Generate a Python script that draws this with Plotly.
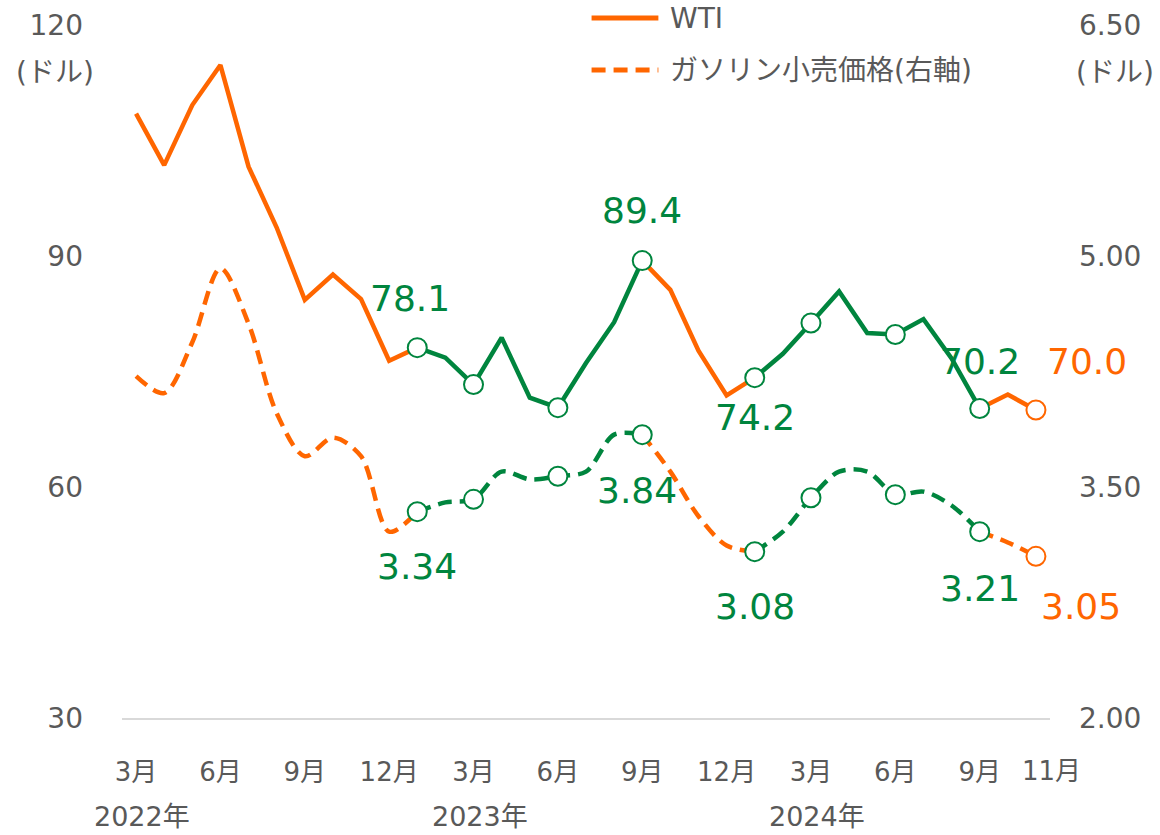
import plotly.graph_objects as go

# Monthly series, March 2022 through November 2024 (33 months)
months = list(range(33))
wti = [108.5, 101.8, 109.6, 114.8, 101.6, 93.7, 84.3, 87.6, 84.4, 76.4,
       78.1, 76.8, 73.3, 79.4, 71.6, 70.3, 76.1, 81.4, 89.4, 85.6, 77.7, 71.9,
       74.2, 77.3, 81.3, 85.4, 80.0, 79.8, 81.8, 76.7, 70.2, 72.0, 70.0]
gasoline = [4.22, 4.11, 4.44, 4.92, 4.56, 3.98, 3.70, 3.82, 3.70, 3.21,
            3.34, 3.40, 3.42, 3.60, 3.55, 3.57, 3.60, 3.84, 3.84, 3.60, 3.31, 3.12,
            3.08, 3.21, 3.43, 3.60, 3.60, 3.45, 3.47, 3.38, 3.21, 3.14, 3.05]

tick_pos = [0, 3, 6, 9, 12, 15, 18, 21, 24, 27, 30]
tick_text = ["3月", "6月", "9月", "12月", "3月", "6月", "9月", "12月",
             "3月", "6月", "9月"]
end_pos = 32
end_text = "11月"
year_pos = [0, 12, 24]
year_text = ["2022年", "2023年", "2024年"]

# highlighted periods (index ranges) and plain periods
green_ranges = [(10, 18), (22, 30)]
orange_ranges = [(0, 10), (18, 22), (30, 32)]
marker_idx = [10, 12, 15, 18, 22, 24, 27, 30]
last_idx = 32
wti_labels = [10, 18, 22, 30]
gas_labels = [10, 18, 22, 30]

ORANGE = "#FF6600"
GREEN = "#00853E"
GREY = "#595959"
FONT = "DejaVu Sans, Noto Sans CJK JP, sans-serif"

fig = go.Figure()


def add_segment(series, rng, color, dash, yaxis, smooth):
    a, b = rng
    line = dict(color=color, width=4.5, dash=dash)
    if smooth:
        line.update(shape="spline", smoothing=0.9)
    fig.add_trace(go.Scatter(
        x=months[a:b + 1], y=series[a:b + 1], mode="lines", line=line,
        yaxis=yaxis, showlegend=False, hoverinfo="skip"))


for rng in orange_ranges:
    add_segment(wti, rng, ORANGE, "solid", "y", False)
    add_segment(gasoline, rng, ORANGE, "14px,8px", "y2", True)
for rng in green_ranges:
    add_segment(wti, rng, GREEN, "solid", "y", False)
    add_segment(gasoline, rng, GREEN, "14px,8px", "y2", True)

# open circle markers
for series, yax in ((wti, "y"), (gasoline, "y2")):
    fig.add_trace(go.Scatter(
        x=[months[i] for i in marker_idx], y=[series[i] for i in marker_idx],
        mode="markers", yaxis=yax, showlegend=False, hoverinfo="skip",
        marker=dict(symbol="circle", size=19, color="white",
                    line=dict(color=GREEN, width=2))))
    fig.add_trace(go.Scatter(
        x=[months[last_idx]], y=[series[last_idx]],
        mode="markers", yaxis=yax, showlegend=False, hoverinfo="skip",
        marker=dict(symbol="circle", size=19, color="white",
                    line=dict(color=ORANGE, width=2))))

annotations = []

# value labels for WTI
wti_offsets = {10: (-7, 49), 18: (0, 50), 22: (0, -40), 30: (0, 47)}
for i in wti_labels:
    dx, dy = wti_offsets[i]
    annotations.append(dict(x=months[i], y=wti[i], xref="x", yref="y",
                            text=f"{wti[i]:.1f}", showarrow=False,
                            xshift=dx, yshift=dy,
                            font=dict(size=36, color=GREEN, family=FONT)))
annotations.append(dict(x=months[last_idx], y=wti[last_idx], xref="x", yref="y",
                        text=f"{wti[last_idx]:.1f}", showarrow=False,
                        xshift=51, yshift=49,
                        font=dict(size=36, color=ORANGE, family=FONT)))

# value labels for gasoline
gas_offsets = {10: (0, -55), 18: (-5, -56), 22: (0, -55), 30: (0, -57)}
for i in gas_labels:
    dx, dy = gas_offsets[i]
    annotations.append(dict(x=months[i], y=gasoline[i], xref="x", yref="y2",
                            text=f"{gasoline[i]:.2f}", showarrow=False,
                            xshift=dx, yshift=dy,
                            font=dict(size=36, color=GREEN, family=FONT)))
annotations.append(dict(x=months[last_idx], y=gasoline[last_idx], xref="x", yref="y2",
                        text=f"{gasoline[last_idx]:.2f}", showarrow=False,
                        xshift=45, yshift=-50,
                        font=dict(size=36, color=ORANGE, family=FONT)))

# last month label, nudged right of its tick
annotations.append(dict(x=end_pos, y=0, xref="x", yref="paper", text=end_text,
                        showarrow=False, yshift=-53, xshift=16,
                        xanchor="center", yanchor="middle",
                        font=dict(size=26, color=GREY, family=FONT)))

# year labels under the month ticks
for p, t in zip(year_pos, year_text):
    annotations.append(dict(x=p, y=0, xref="x", yref="paper", text=t,
                            showarrow=False, yshift=-98, xshift=6,
                            xanchor="center", yanchor="middle",
                            font=dict(size=27, color=GREY, family=FONT)))

# unit labels
for xp in (-0.072, 1.070):
    annotations.append(dict(x=xp, y=0.932, xref="paper", yref="paper",
                            text="(ドル)", showarrow=False,
                            xanchor="center", yanchor="middle",
                            font=dict(size=28, color=GREY, family=FONT)))

# legend entries
legend_items = [("WTI", "solid", 1.010), ("ガソリン小売価格(右軸)", "14px,8px", 0.935)]
shapes = []
for name, dash, yp in legend_items:
    shapes.append(dict(type="line", xref="paper", yref="paper",
                       x0=0.506, x1=0.578, y0=yp, y1=yp,
                       line=dict(color=ORANGE, width=5, dash=dash)))
    annotations.append(dict(x=0.588, y=yp, xref="paper", yref="paper",
                            text=name, showarrow=False,
                            xanchor="left", yanchor="middle",
                            font=dict(size=28, color=GREY, family=FONT)))

fig.update_layout(
    width=1160, height=835,
    margin=dict(l=122, r=110, t=25, b=117),
    paper_bgcolor="white", plot_bgcolor="white",
    font=dict(family=FONT, color=GREY, size=28),
    showlegend=False,
    annotations=annotations,
    shapes=shapes,
    xaxis=dict(range=[-0.5, 32.5], tickmode="array", tickvals=tick_pos,
               ticktext=tick_text, showgrid=False, zeroline=False,
               showline=True, linecolor="#D9D9D9", linewidth=1.5,
               ticks="", ticklabelstandoff=30, tickangle=0, automargin=False,
               tickfont=dict(size=26, color=GREY, family=FONT)),
    yaxis=dict(range=[30, 120], tickmode="array", tickvals=[30, 60, 90, 120],
               showgrid=False, zeroline=False, showline=False, ticks="",
               ticklabelstandoff=38, automargin=False,
               tickfont=dict(size=28, color=GREY, family=FONT)),
    yaxis2=dict(range=[2, 6.5], tickmode="array", tickvals=[2, 3.5, 5, 6.5],
                tickformat=".2f", overlaying="y", side="right",
                showgrid=False, zeroline=False, showline=False, ticks="",
                ticklabelstandoff=28, automargin=False,
                tickfont=dict(size=28, color=GREY, family=FONT)),
)

fig.write_html("out.html")
